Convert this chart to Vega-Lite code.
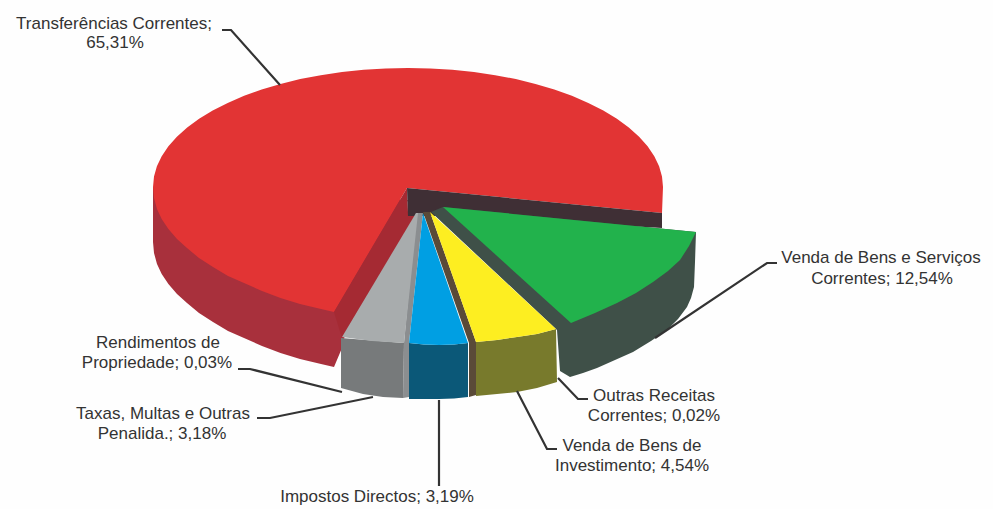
{"$schema":"https://vega.github.io/schema/vega-lite/v6.json","width":993,"height":509,"padding":0,"autosize":{"type":"fit","contains":"padding"},"background":"#fefefe","view":{"stroke":null},
"layer":[
{"data":{"values":[
{"part":"red-side","i":1,"x":153,"y":187},{"part":"red-side","i":2,"x":153,"y":242},{"part":"red-side","i":3,"x":154,"y":253},{"part":"red-side","i":4,"x":157,"y":264},{"part":"red-side","i":5,"x":161.7,"y":274},{"part":"red-side","i":6,"x":168.4,"y":284},{"part":"red-side","i":7,"x":177,"y":294},{"part":"red-side","i":8,"x":187,"y":303},{"part":"red-side","i":9,"x":199,"y":313},{"part":"red-side","i":10,"x":213,"y":322},{"part":"red-side","i":11,"x":228,"y":331},{"part":"red-side","i":12,"x":244,"y":338},{"part":"red-side","i":13,"x":262,"y":346},{"part":"red-side","i":14,"x":280.5,"y":353},{"part":"red-side","i":15,"x":300,"y":359},{"part":"red-side","i":16,"x":321,"y":364},{"part":"red-side","i":17,"x":334,"y":367},{"part":"red-side","i":18,"x":342,"y":348},{"part":"red-side","i":19,"x":345,"y":335},{"part":"red-side","i":20,"x":408,"y":200},
{"part":"red-top","i":21,"x":407,"y":188},{"part":"red-top","i":22,"x":662,"y":213},{"part":"red-top","i":23,"x":663,"y":187},{"part":"red-top","i":24,"x":662,"y":176.6},{"part":"red-top","i":25,"x":659.1,"y":166.3},{"part":"red-top","i":26,"x":654.3,"y":156.2},{"part":"red-top","i":27,"x":647.6,"y":146.3},{"part":"red-top","i":28,"x":639.1,"y":136.7},{"part":"red-top","i":29,"x":628.8,"y":127.5},{"part":"red-top","i":30,"x":616.9,"y":118.7},{"part":"red-top","i":31,"x":603.3,"y":110.5},{"part":"red-top","i":32,"x":588.3,"y":102.9},{"part":"red-top","i":33,"x":571.9,"y":95.8},{"part":"red-top","i":34,"x":554.3,"y":89.5},{"part":"red-top","i":35,"x":535.5,"y":83.9},{"part":"red-top","i":36,"x":515.8,"y":79.1},{"part":"red-top","i":37,"x":495.2,"y":75.2},{"part":"red-top","i":38,"x":474,"y":72.1},{"part":"red-top","i":39,"x":452.3,"y":69.8},{"part":"red-top","i":40,"x":430.2,"y":68.5},{"part":"red-top","i":41,"x":408,"y":68},{"part":"red-top","i":42,"x":385.8,"y":68.5},{"part":"red-top","i":43,"x":363.7,"y":69.8},{"part":"red-top","i":44,"x":342,"y":72.1},{"part":"red-top","i":45,"x":320.8,"y":75.2},{"part":"red-top","i":46,"x":300.2,"y":79.1},{"part":"red-top","i":47,"x":280.5,"y":83.9},{"part":"red-top","i":48,"x":261.7,"y":89.5},{"part":"red-top","i":49,"x":244.1,"y":95.8},{"part":"red-top","i":50,"x":227.7,"y":102.9},{"part":"red-top","i":51,"x":212.7,"y":110.5},{"part":"red-top","i":52,"x":199.1,"y":118.7},{"part":"red-top","i":53,"x":187.2,"y":127.5},{"part":"red-top","i":54,"x":176.9,"y":136.7},{"part":"red-top","i":55,"x":168.4,"y":146.3},{"part":"red-top","i":56,"x":161.7,"y":156.2},{"part":"red-top","i":57,"x":156.9,"y":166.3},{"part":"red-top","i":58,"x":154,"y":176.6},{"part":"red-top","i":59,"x":153,"y":187},{"part":"red-top","i":60,"x":154,"y":198},{"part":"red-top","i":61,"x":157,"y":209},{"part":"red-top","i":62,"x":161.7,"y":219},{"part":"red-top","i":63,"x":168.4,"y":229},{"part":"red-top","i":64,"x":177,"y":239},{"part":"red-top","i":65,"x":187,"y":248},{"part":"red-top","i":66,"x":199,"y":258},{"part":"red-top","i":67,"x":213,"y":267},{"part":"red-top","i":68,"x":228,"y":276},{"part":"red-top","i":69,"x":244,"y":283},{"part":"red-top","i":70,"x":262,"y":291},{"part":"red-top","i":71,"x":280.5,"y":298},{"part":"red-top","i":72,"x":300,"y":304},{"part":"red-top","i":73,"x":321,"y":309},{"part":"red-top","i":74,"x":334,"y":312},
{"part":"red-wall","i":75,"x":407,"y":188},{"part":"red-wall","i":76,"x":408,"y":212},{"part":"red-wall","i":77,"x":417,"y":214},{"part":"red-wall","i":78,"x":342,"y":338},{"part":"red-wall","i":79,"x":334,"y":312},
{"part":"dark-wall","i":80,"x":407,"y":188},{"part":"dark-wall","i":81,"x":662,"y":213},{"part":"dark-wall","i":82,"x":662,"y":228},{"part":"dark-wall","i":83,"x":560,"y":222},{"part":"dark-wall","i":84,"x":440,"y":216},{"part":"dark-wall","i":85,"x":408,"y":216},
{"part":"green-side","i":86,"x":696,"y":232},{"part":"green-side","i":87,"x":695,"y":262},{"part":"green-side","i":88,"x":694,"y":287},{"part":"green-side","i":89,"x":691,"y":298},{"part":"green-side","i":90,"x":687,"y":307},{"part":"green-side","i":91,"x":678,"y":319},{"part":"green-side","i":92,"x":667,"y":330},{"part":"green-side","i":93,"x":651,"y":341},{"part":"green-side","i":94,"x":633,"y":352},{"part":"green-side","i":95,"x":615,"y":360},{"part":"green-side","i":96,"x":597,"y":368},{"part":"green-side","i":97,"x":583,"y":373},{"part":"green-side","i":98,"x":570,"y":377},{"part":"green-side","i":99,"x":560,"y":371},{"part":"green-side","i":100,"x":557,"y":330},{"part":"green-side","i":101,"x":431,"y":212},{"part":"green-side","i":102,"x":443,"y":207},
{"part":"green-top","i":103,"x":443,"y":207},{"part":"green-top","i":104,"x":696,"y":232},{"part":"green-top","i":105,"x":689,"y":246},{"part":"green-top","i":106,"x":680,"y":260},{"part":"green-top","i":107,"x":668,"y":271},{"part":"green-top","i":108,"x":653,"y":282},{"part":"green-top","i":109,"x":636,"y":293},{"part":"green-top","i":110,"x":617,"y":303},{"part":"green-top","i":111,"x":595,"y":313},{"part":"green-top","i":112,"x":571,"y":323},
{"part":"gray-wall","i":113,"x":416,"y":213},{"part":"gray-wall","i":114,"x":423,"y":213},{"part":"gray-wall","i":115,"x":409,"y":343},{"part":"gray-wall","i":116,"x":409,"y":397},{"part":"gray-wall","i":117,"x":403,"y":398},{"part":"gray-wall","i":118,"x":404,"y":343},
{"part":"gray-side","i":119,"x":341,"y":338},{"part":"gray-side","i":120,"x":404,"y":343},{"part":"gray-side","i":121,"x":403,"y":398},{"part":"gray-side","i":122,"x":383,"y":397},{"part":"gray-side","i":123,"x":363,"y":394},{"part":"gray-side","i":124,"x":341,"y":388},
{"part":"gray-top","i":125,"x":416,"y":213},{"part":"gray-top","i":126,"x":418,"y":213},{"part":"gray-top","i":127,"x":404,"y":343},{"part":"gray-top","i":128,"x":372,"y":341},{"part":"gray-top","i":129,"x":342,"y":337},
{"part":"blue-side","i":130,"x":409,"y":343},{"part":"blue-side","i":131,"x":424,"y":344.5},{"part":"blue-side","i":132,"x":439,"y":345},{"part":"blue-side","i":133,"x":454,"y":344.5},{"part":"blue-side","i":134,"x":468,"y":343},{"part":"blue-side","i":135,"x":468,"y":397},{"part":"blue-side","i":136,"x":454,"y":398.5},{"part":"blue-side","i":137,"x":439,"y":399},{"part":"blue-side","i":138,"x":409,"y":399},
{"part":"blue-top","i":139,"x":423,"y":213},{"part":"blue-top","i":140,"x":468,"y":343},{"part":"blue-top","i":141,"x":454,"y":344.5},{"part":"blue-top","i":142,"x":439,"y":345},{"part":"blue-top","i":143,"x":424,"y":344.5},{"part":"blue-top","i":144,"x":409,"y":343},
{"part":"brown-wall","i":145,"x":423,"y":212},{"part":"brown-wall","i":146,"x":430,"y":212},{"part":"brown-wall","i":147,"x":476,"y":342},{"part":"brown-wall","i":148,"x":476,"y":395},{"part":"brown-wall","i":149,"x":469,"y":397},{"part":"brown-wall","i":150,"x":469,"y":343},
{"part":"yellow-side","i":151,"x":476,"y":342},{"part":"yellow-side","i":152,"x":497,"y":340},{"part":"yellow-side","i":153,"x":517,"y":337},{"part":"yellow-side","i":154,"x":537,"y":334},{"part":"yellow-side","i":155,"x":556,"y":329},{"part":"yellow-side","i":156,"x":557,"y":382},{"part":"yellow-side","i":157,"x":537,"y":388},{"part":"yellow-side","i":158,"x":517,"y":392},{"part":"yellow-side","i":159,"x":497,"y":394},{"part":"yellow-side","i":160,"x":476,"y":396},
{"part":"yellow-top","i":161,"x":430,"y":212},{"part":"yellow-top","i":162,"x":556,"y":329},{"part":"yellow-top","i":163,"x":537,"y":334},{"part":"yellow-top","i":164,"x":517,"y":337},{"part":"yellow-top","i":165,"x":497,"y":340},{"part":"yellow-top","i":166,"x":476,"y":342}
]},
"mark":{"type":"line","filled":true,"strokeWidth":0},
"encoding":{
"x":{"field":"x","type":"quantitative","scale":{"domain":[0,993],"nice":false,"zero":false},"axis":null},
"y":{"field":"y","type":"quantitative","scale":{"domain":[509,0],"nice":false,"zero":false},"axis":null},
"order":{"field":"i","type":"quantitative"},
"color":{"field":"part","type":"nominal","legend":null,"scale":{"domain":["red-side","red-top","red-wall","dark-wall","green-side","green-top","gray-wall","gray-side","gray-top","blue-side","blue-top","brown-wall","yellow-side","yellow-top"],"range":["#A8303C","#E23434","#A52A33","#3F2F35","#3F5048","#22B24C","#8B8E90","#777A7B","#A8ACAD","#0B5878","#009FE3","#5A4A38","#787A2C","#FDEE21"]}}
}},
{"data":{"values":[
{"leader":"a","i":1,"x":222,"y":30},{"leader":"a","i":2,"x":231,"y":30},{"leader":"a","i":3,"x":280,"y":85},
{"leader":"b","i":4,"x":777,"y":263},{"leader":"b","i":5,"x":767,"y":263},{"leader":"b","i":6,"x":655,"y":338},
{"leader":"c","i":7,"x":238,"y":369},{"leader":"c","i":8,"x":250,"y":369},{"leader":"c","i":9,"x":342,"y":392},
{"leader":"d","i":10,"x":257,"y":418},{"leader":"d","i":11,"x":270,"y":418},{"leader":"d","i":12,"x":373,"y":397},
{"leader":"e","i":13,"x":439,"y":400},{"leader":"e","i":14,"x":439,"y":486},
{"leader":"f","i":15,"x":517,"y":391},{"leader":"f","i":16,"x":547,"y":449},{"leader":"f","i":17,"x":557,"y":449},
{"leader":"g","i":18,"x":558,"y":378},{"leader":"g","i":19,"x":578,"y":399},{"leader":"g","i":20,"x":588,"y":399}
]},
"mark":{"type":"line","stroke":"#333333","strokeWidth":2.2},
"encoding":{
"x":{"field":"x","type":"quantitative","scale":{"domain":[0,993],"nice":false,"zero":false},"axis":null},
"y":{"field":"y","type":"quantitative","scale":{"domain":[509,0],"nice":false,"zero":false},"axis":null},
"order":{"field":"i","type":"quantitative"},
"detail":{"field":"leader"}
}},
{"data":{"values":[
{"t":"Transferências Correntes;","x":114,"y":24},{"t":"65,31%","x":115,"y":43},
{"t":"Venda de Bens e Serviços","x":881,"y":258},{"t":"Correntes; 12,54%","x":882,"y":279},
{"t":"Outras Receitas","x":654,"y":396},{"t":"Correntes; 0,02%","x":654,"y":416},
{"t":"Venda de Bens de","x":632,"y":446},{"t":"Investimento; 4,54%","x":632,"y":466},
{"t":"Impostos Directos; 3,19%","x":377,"y":497},
{"t":"Rendimentos de","x":158,"y":343},{"t":"Propriedade; 0,03%","x":157,"y":363},
{"t":"Taxas, Multas e Outras","x":163,"y":414},{"t":"Penalida.; 3,18%","x":162,"y":434}
]},
"mark":{"type":"text","font":"Liberation Sans","fontSize":17,"fill":"#333333","align":"center","baseline":"middle"},
"encoding":{
"x":{"field":"x","type":"quantitative","scale":{"domain":[0,993],"nice":false,"zero":false},"axis":null},
"y":{"field":"y","type":"quantitative","scale":{"domain":[509,0],"nice":false,"zero":false},"axis":null},
"text":{"field":"t"}
}}
],
"config":{"style":{"cell":{"stroke":null}}}}
